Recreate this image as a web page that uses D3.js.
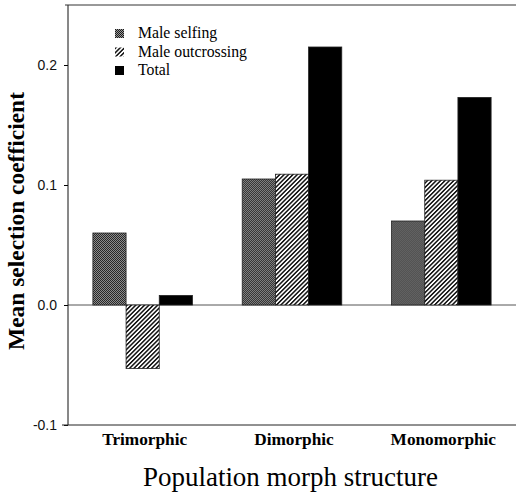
<!DOCTYPE html>
<html>
<head>
<meta charset="utf-8">
<script src="https://cdn.jsdelivr.net/npm/d3@7"></script>
<style>
  body { margin: 0; background: #fff; }
  .serif { font-family: "Liberation Serif", "DejaVu Serif", serif; }
  .sans { font-family: "Liberation Sans", Arial, sans-serif; }
</style>
</head>
<body>
<div id="chart-area"></div>
<script>
// data
var categories = ["Trimorphic", "Dimorphic", "Monomorphic"];
var seriesNames = ["Male selfing", "Male outcrossing", "Total"];
var maleSelfing = [0.060, 0.105, 0.070];
var maleOutcrossing = [-0.053, 0.109, 0.104];
var total = [0.008, 0.215, 0.173];
var yTicks = [-0.1, 0.0, 0.1, 0.2];

var canvasWidth = 516;
var canvasHeight = 498;
var margin = { left: 68, right: 0, top: 5, bottom: 73 };
var width = canvasWidth - margin.left - margin.right;
var height = canvasHeight - margin.top - margin.bottom;

var svg = d3.select("#chart-area")
    .append("svg")
        .attr("width", canvasWidth)
        .attr("height", canvasHeight);

// shrink/grow a text to a given width
function fitWidth(sel, target) {
    var node = sel.node();
    var fs = parseFloat(sel.attr("font-size"));
    var w = node.getComputedTextLength();
    sel.attr("font-size", (fs * target / w).toFixed(2) + "px");
}

var defs = svg.append("defs");

// stipple pattern for selfing
var stip = defs.append("pattern")
    .attr("id", "stipple")
    .attr("patternUnits", "userSpaceOnUse")
    .attr("width", 2).attr("height", 2);
stip.append("rect").attr("width", 2).attr("height", 2).attr("fill", "#9a9a9a");
stip.append("rect").attr("width", 1).attr("height", 1).attr("fill", "#1a1a1a");
stip.append("rect").attr("x", 1).attr("y", 1).attr("width", 1).attr("height", 1).attr("fill", "#1a1a1a");

// diagonal hatch for outcrossing
var hatch = defs.append("pattern")
    .attr("id", "hatch")
    .attr("patternUnits", "userSpaceOnUse")
    .attr("width", 3.1).attr("height", 3.1)
    .attr("patternTransform", "rotate(45)");
hatch.append("rect").attr("width", 3.1).attr("height", 3.1).attr("fill", "#fff");
hatch.append("rect").attr("width", 1.5).attr("height", 3.1).attr("fill", "#111");

var fills = ["url(#stipple)", "url(#hatch)", "#000"];

var g = svg.append("g")
    .attr("transform", `translate(${margin.left},${margin.top})`);

var data = categories.map((c, i) => ({
    cat: c,
    vals: [maleSelfing[i], maleOutcrossing[i], total[i]]
}));

var x = d3.scaleBand()
    .domain(categories)
    .range([0, width])
    .paddingInner(1 / 3)
    .paddingOuter(1 / 6);

var xs = d3.scaleBand()
    .domain(seriesNames)
    .range([0, x.bandwidth()]);

var y = d3.scaleLinear()
    .domain([-0.1, 0.25])
    .range([height, 0]);

// zero line
g.append("line")
    .attr("x1", 0).attr("x2", width)
    .attr("y1", y(0)).attr("y2", y(0))
    .attr("stroke", "#555").attr("stroke-width", 1);

// bars
var groups = g.selectAll(".grp")
    .data(data)
    .enter().append("g")
        .attr("class", "grp")
        .attr("transform", d => `translate(${x(d.cat)},0)`);

groups.selectAll("rect")
    .data(d => d.vals.map((v, j) => ({ v: v, s: seriesNames[j], j: j })))
    .enter().append("rect")
        .attr("x", d => xs(d.s))
        .attr("width", xs.bandwidth())
        .attr("y", d => y(Math.max(0, d.v)))
        .attr("height", d => Math.abs(y(d.v) - y(0)))
        .attr("fill", d => fills[d.j])
        .attr("stroke", "#222")
        .attr("stroke-width", 0.8);

// y axis
var yAxisCall = d3.axisLeft(y)
    .tickValues(yTicks)
    .tickSize(4)
    .tickPadding(7)
    .tickFormat(d => d3.format(".1f")(d).replace("\u2212", "-"));
var yAxis = g.append("g")
    .attr("class", "y-axis")
    .call(yAxisCall);
yAxis.select(".domain").remove();
yAxis.selectAll("text")
    .attr("class", "sans")
    .attr("font-size", "14px")
    .attr("fill", "#111");

g.append("line")
    .attr("x1", 0).attr("x2", 0)
    .attr("y1", 0).attr("y2", height)
    .attr("stroke", "#111");

// top and bottom frame lines
g.append("line")
    .attr("x1", -3).attr("x2", width)
    .attr("y1", 0).attr("y2", 0)
    .attr("stroke", "#333");
g.append("line")
    .attr("x1", -6).attr("x2", width)
    .attr("y1", height).attr("y2", height)
    .attr("stroke", "#222");

// category labels
var cats = g.selectAll(".cat")
    .data(categories)
    .enter().append("text")
        .attr("class", "serif cat")
        .attr("x", d => x(d) + x.bandwidth() / 2 + 2)
        .attr("y", height + 20)
        .attr("text-anchor", "middle")
        .attr("font-size", "14px")
        .attr("font-weight", "bold")
        .text(d => d);
fitWidth(d3.select(cats.nodes()[0]), 85);
cats.attr("font-size", d3.select(cats.nodes()[0]).attr("font-size"));

// X label
var xl = g.append("text")
    .attr("class", "serif")
    .attr("x", 290.5 - margin.left)
    .attr("y", 486 - margin.top)
    .attr("font-size", "20px")
    .attr("text-anchor", "middle")
    .text("Population morph structure");
fitWidth(xl, 295);

// Y label
var yl = g.append("text")
    .attr("class", "serif")
    .attr("x", -(221 - margin.top))
    .attr("y", 23.5 - margin.left)
    .attr("font-size", "20px")
    .attr("font-weight", "bold")
    .attr("text-anchor", "middle")
    .attr("transform", "rotate(-90)")
    .text("Mean selection coefficient");
fitWidth(yl, 258);

// legend
var legend = g.append("g")
    .attr("transform", `translate(${115 - margin.left},${29 - margin.top})`);
var rows = legend.selectAll(".row")
    .data(seriesNames)
    .enter().append("g")
        .attr("transform", (d, i) => `translate(0,${i * 18.5})`);
rows.append("rect")
    .attr("width", 9).attr("height", 9)
    .attr("fill", (d, i) => fills[i]);
var lt = rows.append("text")
    .attr("class", "serif")
    .attr("x", 23)
    .attr("y", 9)
    .attr("font-size", "14px")
    .text(d => d);
fitWidth(d3.select(lt.nodes()[1]), 109);
lt.attr("font-size", d3.select(lt.nodes()[1]).attr("font-size"));
</script>
</body>
</html>
